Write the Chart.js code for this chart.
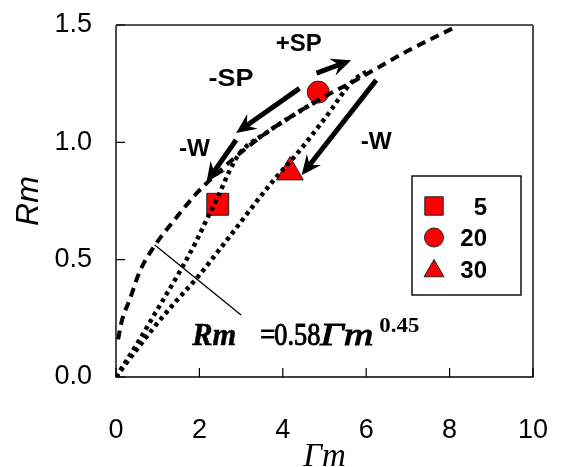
<!DOCTYPE html>
<html>
<head>
<meta charset="utf-8">
<script src="https://cdn.jsdelivr.net/npm/chart.js@4"></script>
<style>html,body{margin:0;padding:0;background:#fff}</style>
</head>
<body>
<canvas id="chart" width="564" height="467"></canvas>
<script>
const xTicks = [0, 2, 4, 6, 8, 10];
const yTicks = [0, 0.5, 1.0, 1.5];

// dashed curve, Rm = 0.58 Gm^0.45
const fitX = [0.05, 0.14, 0.33, 0.57, 0.93, 1.45, 1.92, 2.5, 2.95, 3.6, 4.2, 4.85, 5.8, 7.0, 8.12];
const fitY = [0.16, 0.24, 0.33, 0.45, 0.56, 0.68, 0.78, 0.88, 0.95, 1.04, 1.11, 1.18, 1.27, 1.39, 1.49];

// dotted curve through the square
const lowX = [0, 0.5, 1.0, 1.5, 1.9, 2.2, 2.45, 2.7, 2.95, 3.6, 4.2, 4.85];
const lowY = [0, 0.14, 0.29, 0.44, 0.57, 0.68, 0.77, 0.87, 0.95, 1.04, 1.11, 1.18];

// dotted curve through the triangle
const highX = [0, 0.21, 0.86, 1.4, 1.96, 2.6, 3.74, 4.38, 5.0, 5.7, 6.0];
const highY = [0, 0.05, 0.2, 0.315, 0.426, 0.57, 0.83, 0.96, 1.1, 1.265, 1.3];

const seriesNames = ["5", "20", "30"];
const seriesX = [2.44, 4.85, 4.17];
const seriesY = [0.736, 1.214, 0.873];
const seriesShapes = ["rect", "circle", "triangle"];
const seriesRadius = [15.5, 11, 15.5];

// arrows: from (x1,y1) to (x2,y2), in data units
const arrows = [
  [4.81, 1.295, 5.64, 1.35],
  [4.4, 1.23, 2.88, 1.04],
  [2.88, 1.01, 2.17, 0.83],
  [6.24, 1.265, 4.45, 0.86]
];
const arrowText = ["+SP", "-SP", "-W", "-W"];
const arrowTextX = [4.38, 2.76, 1.88, 6.24];
const arrowTextY = [1.415, 1.265, 0.967, 0.997];

const pointerLine = [0.93, 0.562, 3.0, 0.264];

function xy(xs, ys) { return xs.map((x, i) => ({ x: x, y: ys[i] })); }

const lineSets = [
  { data: xy(fitX, fitY), borderDash: [9, 6], borderWidth: 4 },
  { data: xy(lowX, lowY), borderDash: [4, 4], borderWidth: 4.5 },
  { data: xy(highX, highY), borderDash: [4, 4], borderWidth: 4.5 }
].map(d => Object.assign(d, {
  showLine: true, borderColor: "#000", pointRadius: 0,
  cubicInterpolationMode: "monotone", order: 0, borderCapStyle: "butt"
}));

const markerSets = seriesNames.map((name, i) => ({
  label: name,
  data: [{ x: seriesX[i], y: seriesY[i] }],
  pointStyle: seriesShapes[i],
  pointRadius: seriesRadius[i],
  pointHoverRadius: seriesRadius[i],
  backgroundColor: "#ff0000",
  borderColor: "#222",
  pointBorderWidth: 1,
  order: 1
}));

// text squeezed or stretched to a given width, optionally thickened
function fitText(ctx, text, x, y, width, stroke) {
  const w = ctx.measureText(text).width;
  ctx.save();
  ctx.translate(x, y);
  ctx.scale(width / w, 1);
  ctx.fillText(text, 0, 0);
  if (stroke) {
    ctx.lineWidth = stroke;
    ctx.strokeText(text, 0, 0);
  }
  ctx.restore();
}

function drawArrow(ctx, x1, y1, x2, y2) {
  const ang = Math.atan2(y2 - y1, x2 - x1);
  const head = 20, half = 9, notch = 13;
  ctx.lineWidth = 5;
  ctx.lineCap = "butt";
  ctx.beginPath();
  ctx.moveTo(x1, y1);
  ctx.lineTo(x2 - Math.cos(ang) * notch, y2 - Math.sin(ang) * notch);
  ctx.stroke();
  ctx.save();
  ctx.translate(x2, y2);
  ctx.rotate(ang);
  ctx.beginPath();
  ctx.moveTo(0, 0);
  ctx.lineTo(-head, -half);
  ctx.lineTo(-notch, 0);
  ctx.lineTo(-head, half);
  ctx.closePath();
  ctx.fill();
  ctx.restore();
}

const extras = {
  id: "extras",
  afterDatasetsDraw(chart) {
    const { ctx, chartArea: a, scales: { x, y } } = chart;
    ctx.save();
    ctx.strokeStyle = "#000";
    ctx.fillStyle = "#000";

    // frame
    ctx.lineWidth = 1.4;
    ctx.beginPath();
    ctx.moveTo(a.left, a.top);
    ctx.lineTo(a.left, a.bottom);
    ctx.lineTo(a.right, a.bottom);
    ctx.lineTo(a.right, a.top);
    ctx.stroke();
    ctx.strokeStyle = "#555";
    ctx.lineWidth = 2;
    ctx.beginPath();
    ctx.moveTo(a.left, a.top);
    ctx.lineTo(a.right, a.top);
    ctx.stroke();

    // inward ticks
    ctx.strokeStyle = "#000";
    ctx.lineWidth = 1.2;
    ctx.beginPath();
    xTicks.forEach(v => {
      const px = x.getPixelForValue(v);
      ctx.moveTo(px, a.bottom);
      ctx.lineTo(px, a.bottom - 9);
    });
    yTicks.forEach(v => {
      const py = y.getPixelForValue(v);
      ctx.moveTo(a.left, py);
      ctx.lineTo(a.left + 9, py);
    });
    ctx.stroke();

    // arrows and their labels
    arrows.forEach(r => drawArrow(ctx,
      x.getPixelForValue(r[0]), y.getPixelForValue(r[1]),
      x.getPixelForValue(r[2]), y.getPixelForValue(r[3])));
    ctx.font = "bold 23px 'Liberation Sans', Arial, sans-serif";
    ctx.textAlign = "center";
    ctx.textBaseline = "middle";
    const labelW = [46, 45, 31, 31];
    arrowText.forEach((t, i) => {
      fitText(ctx, t, x.getPixelForValue(arrowTextX[i]), y.getPixelForValue(arrowTextY[i]), labelW[i]);
    });

    // pointer line to the fitted curve
    ctx.lineWidth = 1.3;
    ctx.beginPath();
    ctx.moveTo(x.getPixelForValue(pointerLine[0]), y.getPixelForValue(pointerLine[1]));
    ctx.lineTo(x.getPixelForValue(pointerLine[2]), y.getPixelForValue(pointerLine[3]));
    ctx.stroke();

    // formula
    const fx = x.getPixelForValue(1.83), fy = y.getPixelForValue(0.136);
    ctx.textAlign = "left";
    ctx.textBaseline = "alphabetic";
    ctx.font = "italic bold 32px 'Liberation Serif', serif";
    fitText(ctx, "Rm", fx, fy, 44, 0.5);
    ctx.font = "31px 'Liberation Serif', serif";
    fitText(ctx, "=", fx + 68, fy, 15, 1);
    fitText(ctx, "0.58", fx + 82, fy, 46, 1);
    ctx.font = "italic 32px 'Liberation Serif', serif";
    fitText(ctx, "\u0393m", fx + 128, fy, 53, 1);
    ctx.font = "bold 22px 'Liberation Serif', serif";
    fitText(ctx, "0.45", fx + 187, fy - 13, 40);

    // legend
    const lx = 412, ly = 176, lw = 109, lh = 119;
    ctx.fillStyle = "#fff";
    ctx.fillRect(lx, ly, lw, lh);
    ctx.lineWidth = 1.4;
    ctx.strokeRect(lx, ly, lw, lh);
    ctx.font = "bold 24px 'Liberation Sans', Arial, sans-serif";
    ctx.textAlign = "right";
    ctx.textBaseline = "middle";
    const legendR = [13, 9.5, 11.5];
    seriesNames.forEach((n, i) => {
      const cy = ly + 30 + i * 31.5;
      ctx.fillStyle = "#ff0000";
      ctx.strokeStyle = "#222";
      ctx.lineWidth = 1;
      Chart.helpers.drawPoint(ctx, {
        pointStyle: seriesShapes[i],
        radius: legendR[i],
        borderWidth: 1
      }, lx + 22, cy + (i === 2 ? 2 : 0));
      ctx.fillStyle = "#000";
      ctx.fillText(n, lx + 75, cy + 2);
    });
    ctx.restore();
  }
};

new Chart(document.getElementById("chart"), {
  type: "scatter",
  data: { datasets: lineSets.concat(markerSets) },
  options: {
    responsive: false,
    animation: false,
    events: [],
    layout: { padding: { top: 25, right: 31, left: 0, bottom: 0 } },
    plugins: { legend: { display: false }, tooltip: { enabled: false } },
    scales: {
      x: {
        type: "linear", min: 0, max: 10,
        afterBuildTicks: s => { s.ticks = xTicks.map(v => ({ value: v })); },
        afterFit: s => { s.height = 90; s.paddingLeft = 0; s.paddingRight = 0; },
        grid: { display: false, drawTicks: false },
        border: { display: false },
        ticks: { padding: 37, color: "#000", font: { family: "'Liberation Sans', Arial, sans-serif", size: 27 } },
        title: {
          display: true, text: "\u0393m", color: "#000", padding: { top: 0, bottom: -7 },
          font: { family: "'Liberation Serif', serif", style: "italic", size: 33, lineHeight: 1 }
        }
      },
      y: {
        type: "linear", min: 0, max: 1.5,
        afterBuildTicks: s => { s.ticks = yTicks.map(v => ({ value: v })); },
        afterFit: s => { s.width = 116; s.paddingTop = 0; s.paddingBottom = 0; },
        grid: { display: false, drawTicks: false },
        border: { display: false },
        ticks: {
          padding: 24, color: "#000",
          font: { family: "'Liberation Sans', Arial, sans-serif", size: 27 },
          callback: v => v.toFixed(1)
        },
        title: {
          display: true, text: "Rm", color: "#000", padding: { top: 13, bottom: 0 },
          font: { family: "'Liberation Sans', Arial, sans-serif", style: "italic", size: 32, lineHeight: 1 }
        }
      }
    }
  },
  plugins: [extras]
});
</script>
</body>
</html>
